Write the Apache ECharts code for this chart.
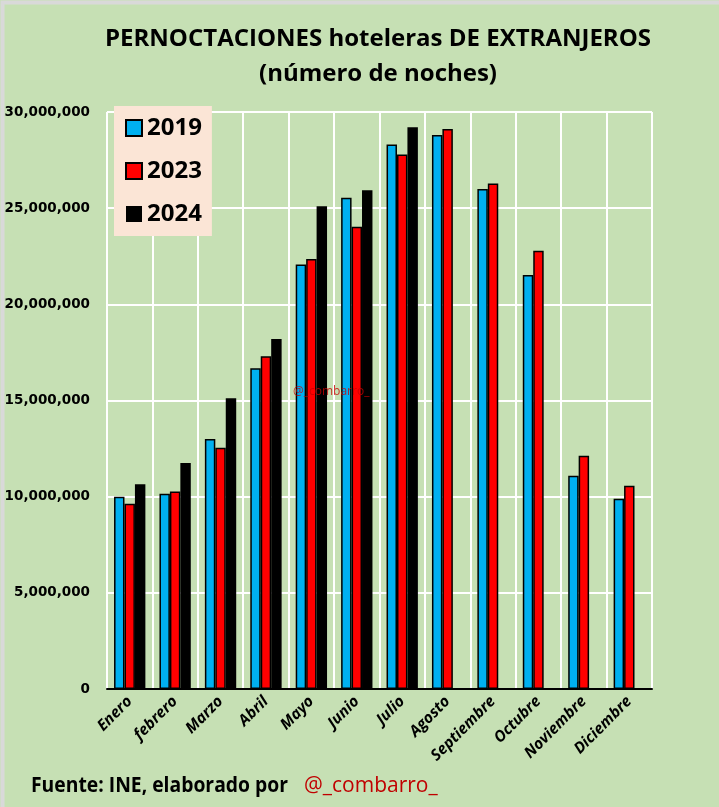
<!DOCTYPE html>
<html>
<head>
<meta charset="utf-8">
<script src="https://cdn.jsdelivr.net/npm/echarts@6/dist/echarts.min.js"></script>
<style>
  html, body { margin: 0; padding: 0; background: #fff; }
  #chart { width: 719px; height: 807px; }
</style>
</head>
<body>
<div id="chart"></div>
<script>
// categorías (meses)
var months = ['Enero', 'febrero', 'Marzo', 'Abril', 'Mayo', 'Junio', 'Julio', 'Agosto', 'Septiembre', 'Octubre', 'Noviembre', 'Diciembre'];
// pernoctaciones por año
var y2019 = [10000000, 10150000, 13000000, 16680000, 22070000, 25540000, 28310000, 28810000, 26000000, 21530000, 11090000, 9890000];
var y2023 = [9630000, 10270000, 12540000, 17300000, 22360000, 24030000, 27790000, 29120000, 26280000, 22780000, 12130000, 10570000];
var y2024 = [10650000, 11750000, 15120000, 18200000, 25100000, 25930000, 29210000, null, null, null, null, null];

var FONT = 'Open Sans';
var chart = echarts.init(document.getElementById('chart'));

var option = {
  backgroundColor: '#C6E0B4',
  animation: false,
  textStyle: { fontFamily: FONT },
  title: {
    text: 'PERNOCTACIONES hoteleras DE EXTRANJEROS\n(número de noches)',
    left: 373,
    textAlign: 'center',
    top: 17,
    textStyle: { fontSize: 24, fontWeight: 'bold', color: '#000', lineHeight: 35, fontFamily: FONT }
  },
  legend: {
    orient: 'vertical',
    left: 114,
    top: 106,
    padding: [10, 10, 10, 11],
    backgroundColor: '#FBE5D6',
    icon: 'rect',
    itemWidth: 16,
    itemHeight: 16,
    itemGap: 19,
    textStyle: { fontSize: 24, fontWeight: 'bold', color: '#000', fontFamily: FONT },
    data: ['2019', '2023', '2024']
  },
  grid: { left: 107, right: 67, top: 112, bottom: 118 },
  xAxis: {
    type: 'category',
    data: months,
    axisLine: { lineStyle: { color: '#000', width: 2 } },
    axisTick: { show: false },
    splitLine: { show: true, lineStyle: { color: '#fff', width: 2 } },
    axisLabel: { rotate: 45, fontSize: 15.5, fontWeight: 'bold', fontStyle: 'italic', color: '#000', margin: 10, interval: 0 }
  },
  yAxis: {
    type: 'value',
    min: 0,
    max: 30000000,
    interval: 5000000,
    axisLine: { show: false },
    axisTick: { show: false },
    splitLine: { lineStyle: { color: '#fff', width: 2 } },
    axisLabel: {
      fontSize: 13.5, fontWeight: 'bold', color: '#000', margin: 17, fontFamily: 'DejaVu Sans',
      formatter: function (v) { return v.toLocaleString('en-US'); }
    }
  },
  series: [
    {
      name: '2019', type: 'bar', data: y2019, barGap: '0%', barCategoryGap: '31%',
      itemStyle: { color: '#00B0F0', borderColor: '#000', borderWidth: 1.5 }
    },
    {
      name: '2023', type: 'bar', data: y2023,
      itemStyle: { color: '#FF0000', borderColor: '#000', borderWidth: 1.5 }
    },
    {
      name: '2024', type: 'bar', data: y2024,
      itemStyle: { color: '#000' }
    }
  ],
  graphic: [
    {
      type: 'rect', left: 0, top: 0, z: 100, silent: true,
      shape: { width: 719, height: 807 },
      style: { fill: 'none', stroke: '#D9D9D9', lineWidth: 4 }
    },
    {
      type: 'text', left: 293, top: 386, z: 50, silent: true,
      style: { text: '@_combarro_', fill: 'rgba(200,0,0,0.8)', font: '12px ' + FONT }
    },
    // pie de fuente (un poco estrechado)
    {
      type: 'text', x: 31, y: 786, scaleX: 0.92,
      style: { text: 'Fuente: INE, elaborado por', fill: '#000', font: 'bold 21px ' + FONT, verticalAlign: 'middle' }
    },
    {
      type: 'text', x: 304, y: 786,
      style: { text: '@_combarro_', fill: '#C00000', font: '21px ' + FONT, verticalAlign: 'middle' }
    }
  ]
};

chart.setOption(option);
</script>
</body>
</html>
